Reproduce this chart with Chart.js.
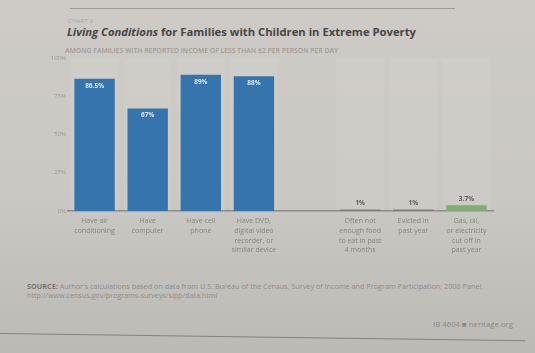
<!DOCTYPE html>
<html>
<head>
<meta charset="utf-8">
<script src="https://cdn.jsdelivr.net/npm/chart.js@4.4.1/dist/chart.umd.min.js"></script>
<style>
  html, body { margin: 0; padding: 0; }
  body {
    width: 535px; height: 353px; overflow: hidden; position: relative;
    background: linear-gradient(180deg, #cecbc6 0%, #cac8c3 55%, #bcbab5 100%);
    font-family: "Open Sans", "Noto Sans", sans-serif;
  }
  .abs { position: absolute; white-space: nowrap; }
  #topRule { left: 70px; top: 8px; width: 385px; height: 1px; background: #9c9a96; }
  #kicker { left: 68px; top: 17px; font-size: 6px; color: #aaa8a3; letter-spacing: 0.2px; }
  #title { left: 67px; top: 24px; font-size: 12px; font-weight: 700; color: #474644; }
  #title em { font-style: italic; }
  #subtitle { left: 65px; top: 46px; font-size: 5.5px; font-weight: 600; color: #9d9b97; }
  #chartBox { left: 0; top: 50px; width: 535px; height: 215px; }
  .src { left: 27px; font-size: 5.5px; color: #8e8c88; }
  #src1 { top: 281px; }
  #src2 { top: 290px; }
  #src1 b { color: #77756f; }
  #footer { left: 433px; top: 319px; font-size: 6px; color: #8a8884; }
  #bottomRule { left: 0; top: 333px; width: 525px; height: 1px; background: #84827e; transform: rotate(0.8deg); transform-origin: left center; }
</style>
</head>
<body>
<div class="abs" id="topRule"></div>
<div class="abs" id="kicker">CHART 2</div>
<div class="abs" id="title"><em>Living Conditions</em> for Families with Children in Extreme Poverty</div>
<div class="abs" id="subtitle">AMONG FAMILIES WITH REPORTED INCOME OF LESS THAN $2 PER PERSON PER DAY</div>
<div class="abs" id="chartBox"><canvas id="chart" width="535" height="215"></canvas></div>
<div class="abs src" id="src1"><b>SOURCE:</b> Author's calculations based on data from U.S. Bureau of the Census, Survey of Income and Program Participation, 2008 Panel,</div>
<div class="abs src" id="src2">http://www.census.gov/programs-surveys/sipp/data.html</div>
<div class="abs" id="footer">IB 4604 &#9632; heritage.org</div>
<div class="abs" id="bottomRule"></div>

<script>
// data
const categories = [
  ['Have air', 'conditioning'],
  ['Have', 'computer'],
  ['Have cell', 'phone'],
  ['Have DVD,', 'digital video', 'recorder, or', 'similar device'],
  '',
  ['Often not', 'enough food', 'to eat in past', '4 months'],
  ['Evicted in', 'past year'],
  ['Gas, oil,', 'or electricity', 'cut off in', 'past year']
];
const shares = [86.5, 67, 89, 88, null, 1, 1, 3.7];
const shareLabels = ['86.5%', '67%', '89%', '88%', '', '1%', '1%', '3.7%'];
const panelTop = [100, 100, 100, 100, null, 100, 100, 100];
const yTicks = [0, 25, 50, 75, 100];

const BLUE = '#3674ad';
const GREY = '#7e7d7a';
const GREEN = '#80ad75';
const barColors = [BLUE, BLUE, BLUE, BLUE, BLUE, GREY, GREY, GREEN];

// squeeze a text block to the width it has in the print
function fitWidth(id, target) {
  const el = document.getElementById(id);
  let size = parseFloat(getComputedStyle(el).fontSize);
  for (let i = 0; i < 6; i++) {
    const w = el.getBoundingClientRect().width;
    size = size * target / w;
    el.style.fontSize = size + 'px';
  }
}
fitWidth('title', 349);
fitWidth('subtitle', 273);
fitWidth('src1', 456);
fitWidth('src2', 190);
fitWidth('footer', 80);

// value labels: white inside the tall bars, dark above the small ones
const valueLabelPlugin = {
  id: 'valueLabels',
  afterDatasetsDraw(chart) {
    const ctx = chart.ctx;
    const meta = chart.getDatasetMeta(0);
    ctx.save();
    ctx.textAlign = 'center';
    ctx.textBaseline = 'middle';
    ctx.font = '700 6.5px "Open Sans", sans-serif';
    meta.data.forEach((bar, i) => {
      const v = shares[i];
      if (v == null) return;
      if (v > 10) {
        ctx.fillStyle = '#dfe7ef';
        ctx.fillText(shareLabels[i], bar.x, bar.y + 7);
      } else {
        ctx.fillStyle = '#5d5c59';
        ctx.fillText(shareLabels[i], bar.x, bar.y - 6);
      }
    });
    ctx.restore();
  }
};

new Chart(document.getElementById('chart'), {
  type: 'bar',
  data: {
    labels: categories,
    datasets: [
      {
        label: 'Share of families',
        data: shares,
        backgroundColor: barColors,
        barPercentage: 0.76,
        categoryPercentage: 1,
        grouped: false,
        order: 1
      },
      {
        label: 'panel',
        data: panelTop,
        backgroundColor: 'rgba(255,255,255,0.06)',
        barPercentage: 0.9,
        categoryPercentage: 1,
        grouped: false,
        order: 2
      }
    ]
  },
  options: {
    responsive: false,
    animation: false,
    devicePixelRatio: 1,
    layout: { padding: { left: 46, right: 42, top: 8, bottom: 0 } },
    plugins: {
      legend: { display: false },
      tooltip: { enabled: false }
    },
    scales: {
      x: {
        grid: { display: false, drawTicks: false },
        border: { display: true, color: '#8a8986', width: 1.5 },
        ticks: {
          color: '#86847f',
          font: { size: 7, family: '"Open Sans", sans-serif', lineHeight: 1.4 },
          padding: 5,
          maxRotation: 0,
          autoSkip: false
        },
        afterFit(scale) { scale.height = 54; }
      },
      y: {
        min: 0,
        max: 100,
        afterBuildTicks(scale) { scale.ticks = yTicks.map(v => ({ value: v })); },
        grid: { display: false, drawTicks: false },
        border: { display: false },
        ticks: {
          color: '#9a9893',
          font: { size: 6, family: '"Open Sans", sans-serif' },
          padding: 2,
          callback: v => v + '%'
        },
        afterFit(scale) { scale.width = 22; }
      }
    }
  },
  plugins: [valueLabelPlugin]
});
</script>
</body>
</html>
